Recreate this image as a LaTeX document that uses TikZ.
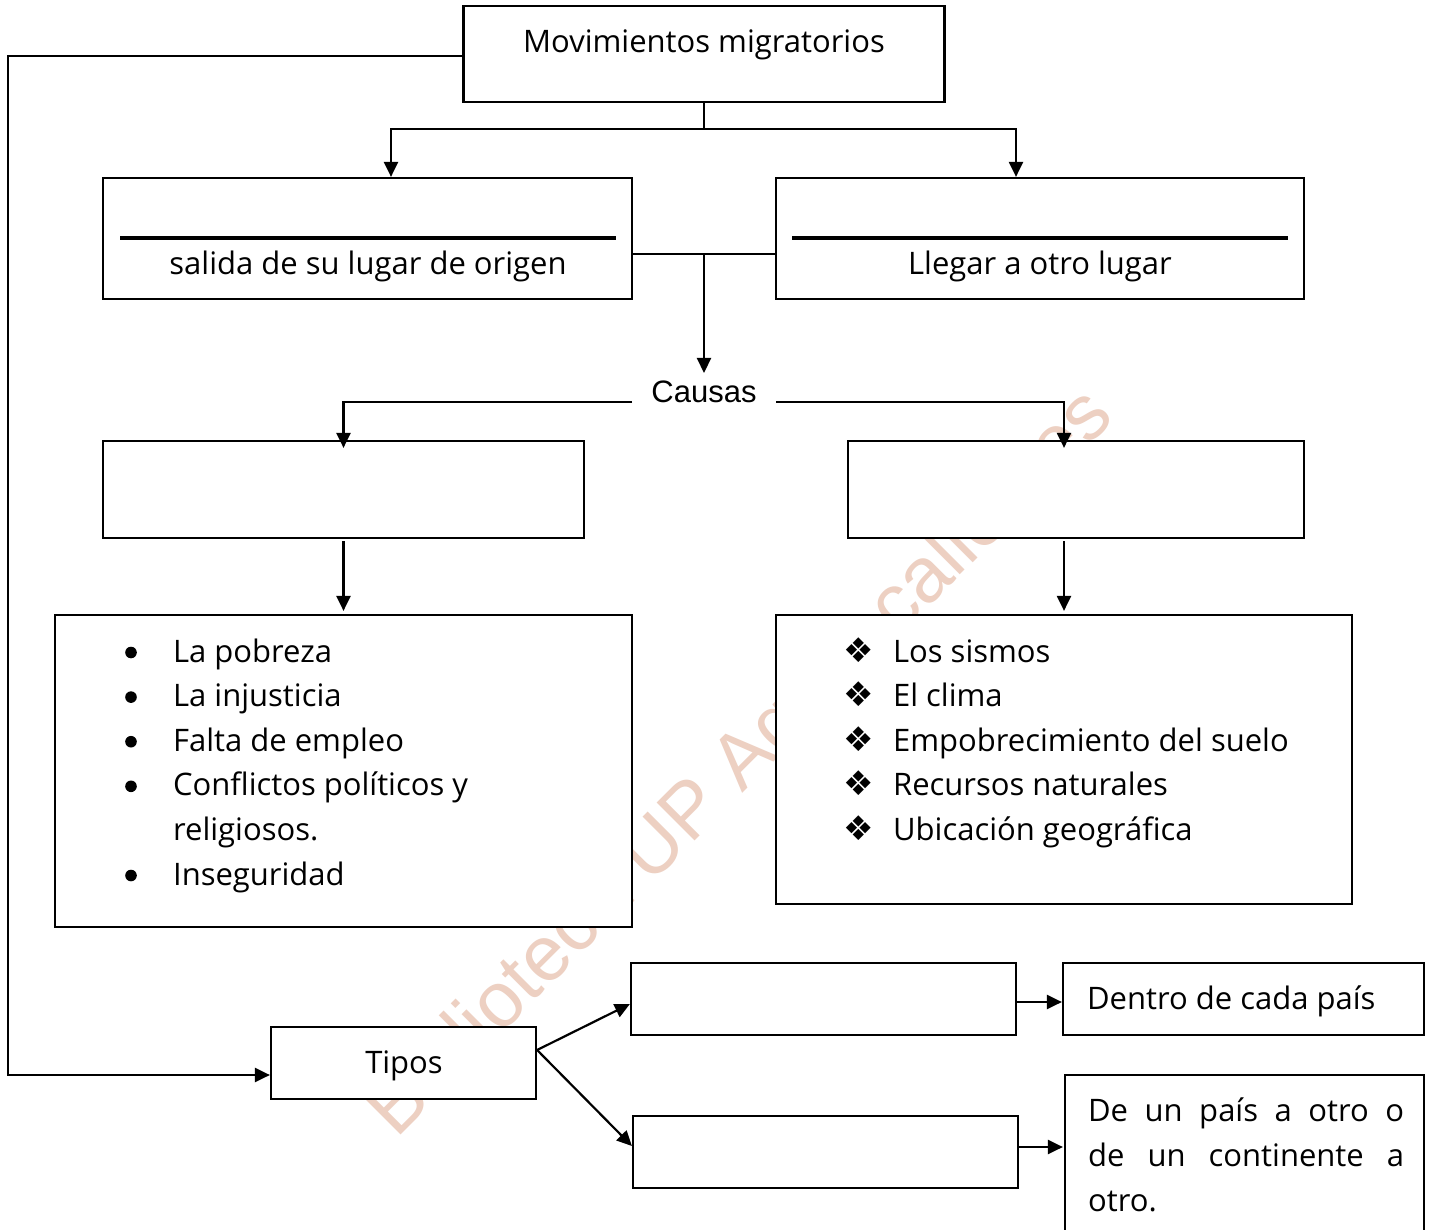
\documentclass[tikz,border=0pt]{standalone}
\usepackage{fontspec}
\setmainfont{Open Sans}
\newfontfamily\arialf{Liberation Sans}
\newfontfamily\symf{DejaVu Sans}
\usetikzlibrary{arrows.meta,calc}
\definecolor{wmark}{RGB}{237,208,194}
\begin{document}
\begin{tikzpicture}[x=1pt,y=-1pt,line width=2.2pt,
  bx/.style={draw, fill=white, inner sep=0pt, line width=2.2pt},
  tx/.style={inner sep=0pt, anchor=base, font=\fontsize{31}{37}\selectfont},
  txl/.style={tx, anchor=base west},
  arr/.style={-{Triangle[length=15pt,width=14pt]}},
  dia/.style={inner sep=0pt, anchor=base, font=\symf\fontsize{34}{40}\selectfont}]
\useasboundingbox (0,0) rectangle (1430,1230);
\fill[white] (0,0) rectangle (1430,1230);
% watermark
\node[rotate=45, text=wmark, inner sep=0pt, font=\arialf\fontsize{78}{94}\selectfont] (wm) at (742,765) {Biblioteca UP Aguascalientes};
% boxes
\node[bx, minimum width=481, minimum height=96] (top) at (704,54) {};
\node[bx, minimum width=529, minimum height=121] (salida) at (367.5,238.5) {};
\node[bx, minimum width=528, minimum height=121] (llegar) at (1040,238.5) {};
\node[bx, minimum width=481, minimum height=97] (lc) at (343.5,489.5) {};
\node[bx, minimum width=456, minimum height=97] (rc) at (1076,489.5) {};
\node[bx, minimum width=577, minimum height=312] (lb) at (343.5,771) {};
\node[bx, minimum width=576, minimum height=289] (rb) at (1064,759.5) {};
\node[bx, minimum width=265, minimum height=72] (tipos) at (403.5,1063) {};
\node[bx, minimum width=385, minimum height=72] (ta) at (823.5,999) {};
\node[bx, minimum width=385, minimum height=72] (tb) at (825.5,1152) {};
\node[bx, minimum width=361, minimum height=72] (dentro) at (1243.5,999) {};
\node[bx, minimum width=359, minimum height=170] (deun) at (1244.5,1160) {};
% texts
\node[tx] (t1) at (704,53) {Movimientos migratorios};
\draw[line width=4pt] (120,238) -- (616,238);
\draw[line width=4pt] (792,238) -- (1288,238);
\node[tx] (t2) at (368,275) {salida de su lugar de origen};
\node[tx] (t3) at (1040,275) {Llegar a otro lugar};
\node[tx, font=\arialf\fontsize{31}{37}\selectfont] (causas) at (704,403) {Causas};
\node[tx] (t4) at (404,1073) {Tipos};
\node[txl] (t5) at (1086,1009) {Dentro de cada país};
\node[txl] (t6) at (1087,1121) {\makebox[316pt][s]{De un país a otro o}};
\node[txl] (t7) at (1087,1166) {\makebox[316pt][s]{de un continente a}};
\node[txl] (t8) at (1087,1211) {otro.};
% left list
\fill (131,652.5) circle (5.8);
\fill (131,697.1) circle (5.8);
\fill (131,741.7) circle (5.8);
\fill (131,786.3) circle (5.8);
\fill (131,875.5) circle (5.8);
\node[txl] (l1) at (172,662) {La pobreza};
\node[txl] (l2) at (172,706.6) {La injusticia};
\node[txl] (l3) at (172,751.2) {Falta de empleo};
\node[txl] (l4) at (172,795.8) {Conflictos políticos y};
\node[txl] (l5) at (172,840.4) {religiosos.};
\node[txl] (l6) at (172,885) {Inseguridad};
% right list
\node[dia] (d1) at (859,662) {❖};
\node[dia] (d2) at (859,706.6) {❖};
\node[dia] (d3) at (859,751.2) {❖};
\node[dia] (d4) at (859,795.8) {❖};
\node[dia] (d5) at (859,840.4) {❖};
\node[txl] (r1) at (892,662) {Los sismos};
\node[txl] (r2) at (892,706.6) {El clima};
\node[txl] (r3) at (892,751.2) {Empobrecimiento del suelo};
\node[txl] (r4) at (892,795.8) {Recursos naturales};
\node[txl] (r5) at (892,840.4) {Ubicación geográfica};
% connectors
\coordinate (j1) at (704,129);
\draw (top.south) -- (j1);
\draw[arr] (j1) -| ([xshift=23.5pt]salida.north);
\draw[arr] (j1) -| ([xshift=-24pt]llegar.north);
\draw ([yshift=-15.5pt]salida.east) -- ([yshift=-15.5pt]llegar.west);
\coordinate (j2) at (704,254);
\coordinate (c1) at (704,373);
\draw[arr] (j2) -- (c1);
\coordinate (cl) at (632,402);
\coordinate (cr) at (776,402);
\draw[arr] (cl) -| ([yshift=-8pt]lc.north);
\draw[arr] (cr) -| ([xshift=-12pt,yshift=-8pt]rc.north);
\draw[arr] ([yshift=-2pt]lc.south) -- ([yshift=3pt]lb.north);
\draw[arr] ([xshift=-12pt,yshift=-2pt]rc.south) -- ([yshift=3pt]rb.north);
\coordinate (lp) at (8,56);
\draw[arr] ([yshift=-2pt]top.west) -- (lp) |- ([yshift=-12pt]tipos.west);
\draw[arr] ([yshift=13pt]tipos.east) -- ([yshift=-5pt]ta.west);
\draw[arr] ([yshift=13pt]tipos.east) -- ([yshift=6pt]tb.west);
\draw[arr] ([yshift=-3pt]ta.east) -- ([yshift=-3pt]dentro.west);
\draw[arr] ([xshift=-2pt,yshift=5pt]tb.east) -- ([xshift=-1pt,yshift=13pt]deun.west);
\end{tikzpicture}
\end{document}
